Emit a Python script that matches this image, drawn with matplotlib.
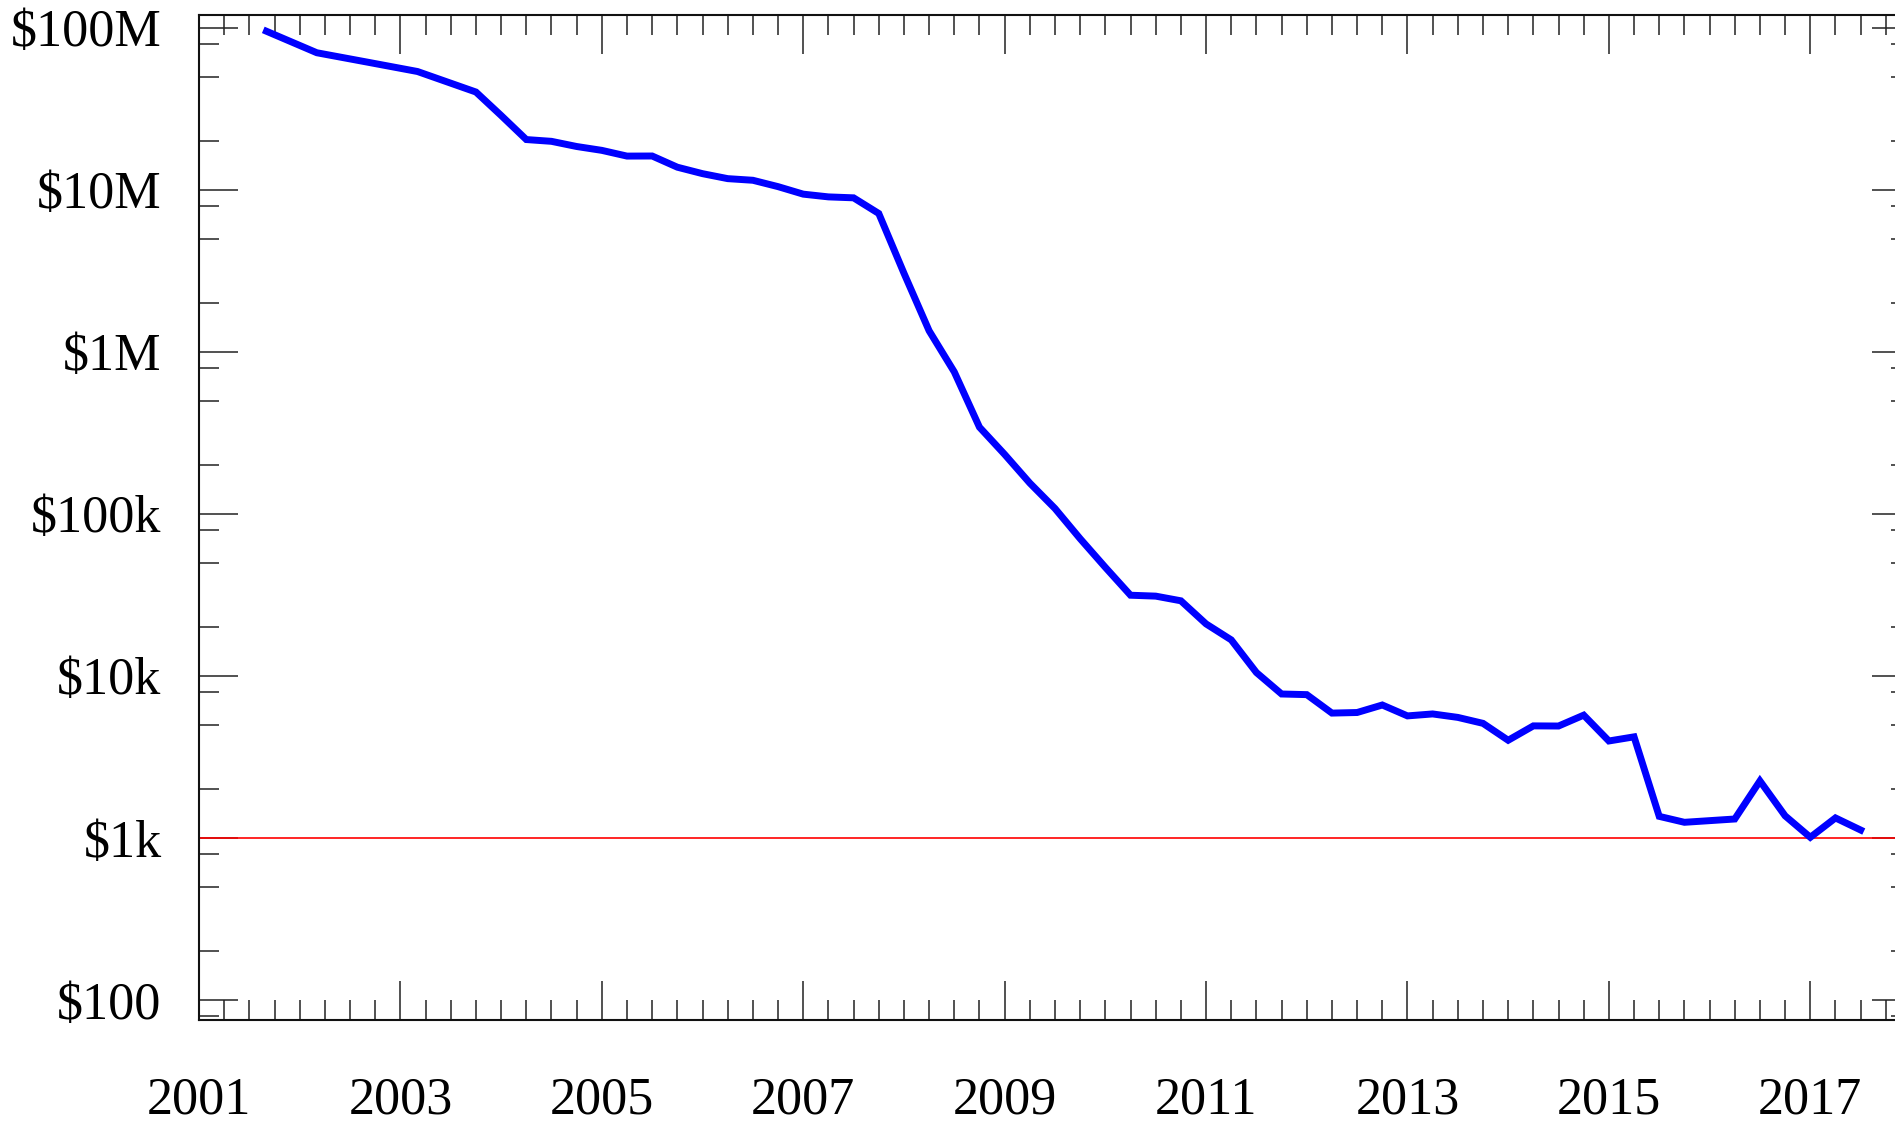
import matplotlib
matplotlib.use('Agg')
import matplotlib.pyplot as plt
from matplotlib.ticker import FixedLocator, FixedFormatter, NullFormatter

# cost per genome (quarterly after 2003)
years = [2001.67, 2002.17, 2002.67, 2003.17, 2003.75,
         2004.0, 2004.25, 2004.5, 2004.75, 2005.0, 2005.25, 2005.5, 2005.75,
         2006.0, 2006.25, 2006.5, 2006.75, 2007.0, 2007.25, 2007.5, 2007.75,
         2008.0, 2008.25, 2008.5, 2008.75, 2009.0, 2009.25, 2009.5, 2009.75,
         2010.0, 2010.25, 2010.5, 2010.75, 2011.0, 2011.25, 2011.5, 2011.75,
         2012.0, 2012.25, 2012.5, 2012.75, 2013.0, 2013.25, 2013.5, 2013.75,
         2014.0, 2014.25, 2014.5, 2014.75, 2015.0, 2015.25, 2015.5, 2015.75,
         2016.25, 2016.5, 2016.75, 2017.0, 2017.25, 2017.5]
cost = [95.26e6, 70.18e6, 61.45e6, 53.75e6, 40.16e6,
        28.78e6, 20.44e6, 19.93e6, 18.52e6, 17.53e6, 16.16e6, 16.18e6, 13.80e6,
        12.59e6, 11.73e6, 11.46e6, 10.47e6, 9.41e6, 9.05e6, 8.93e6, 7.15e6,
        3.06e6, 1.35e6, 752e3, 343e3, 233e3, 155e3, 108e3, 70.3e3,
        46.8e3, 31.5e3, 31.1e3, 29.1e3, 20.96e3, 16.7e3, 10.5e3, 7.74e3,
        7.67e3, 5.90e3, 5.95e3, 6.62e3, 5.67e3, 5.83e3, 5.55e3, 5.10e3,
        4.01e3, 4.92e3, 4.91e3, 5.73e3, 3.97e3, 4.21e3, 1.36e3, 1.25e3,
        1.31e3, 2.25e3, 1.37e3, 1.01e3, 1.33e3, 1.12e3]

reference_cost = 1000  # the red $1k line

y_major = [1e2, 1e3, 1e4, 1e5, 1e6, 1e7, 1e8]
y_labels = [r'\$100', r'\$1k', r'\$10k', r'\$100k', r'\$1M', r'\$10M', r'\$100M']
x_major = [2001, 2003, 2005, 2007, 2009, 2011, 2013, 2015, 2017]
x_labels = [str(y) for y in x_major]

plt.rcParams['font.family'] = ['Liberation Serif', 'DejaVu Serif']

fig = plt.figure(figsize=(18.95, 11.22), dpi=100)
# right spine sits just outside the canvas, as in the reference
ax = fig.add_axes([199 / 1895, 102 / 1122, 1712 / 1895, 1005 / 1122])

ax.plot(years, cost, color='#0000ff', lw=5.0, solid_joinstyle='miter', zorder=3)
ax.axhline(reference_cost, color='#ff0000', lw=1.2, zorder=2)

ax.set_yscale('log')
ax.set_xlim(2001, 2018)
ax.set_ylim(75.3, 1.2e8)

ax.yaxis.set_major_locator(FixedLocator(y_major))
ax.yaxis.set_major_formatter(FixedFormatter(y_labels))
y_minor = [m * 10 ** e for e in range(1, 9) for m in (2, 5, 8)]
ax.yaxis.set_minor_locator(FixedLocator(y_minor))
ax.yaxis.set_minor_formatter(NullFormatter())

ax.xaxis.set_major_locator(FixedLocator(x_major))
ax.xaxis.set_major_formatter(FixedFormatter(x_labels))
x_minor = [2001 + q * 0.25 for q in range(0, 17 * 4 + 1)]
ax.xaxis.set_minor_locator(FixedLocator(x_minor))

ax.tick_params(which='both', direction='in', top=True, right=True,
               color='#222222', width=1.1, labelsize=37.5, labelcolor='black')
ax.tick_params(which='major', length=28)
ax.tick_params(which='minor', length=14.4)
ax.tick_params(axis='x', which='major', pad=41)
ax.tick_params(axis='y', which='major', pad=27)

for s in ax.spines.values():
    s.set_linewidth(1.5)
    s.set_color('#111111')

fig.savefig('out.png', dpi=100)
